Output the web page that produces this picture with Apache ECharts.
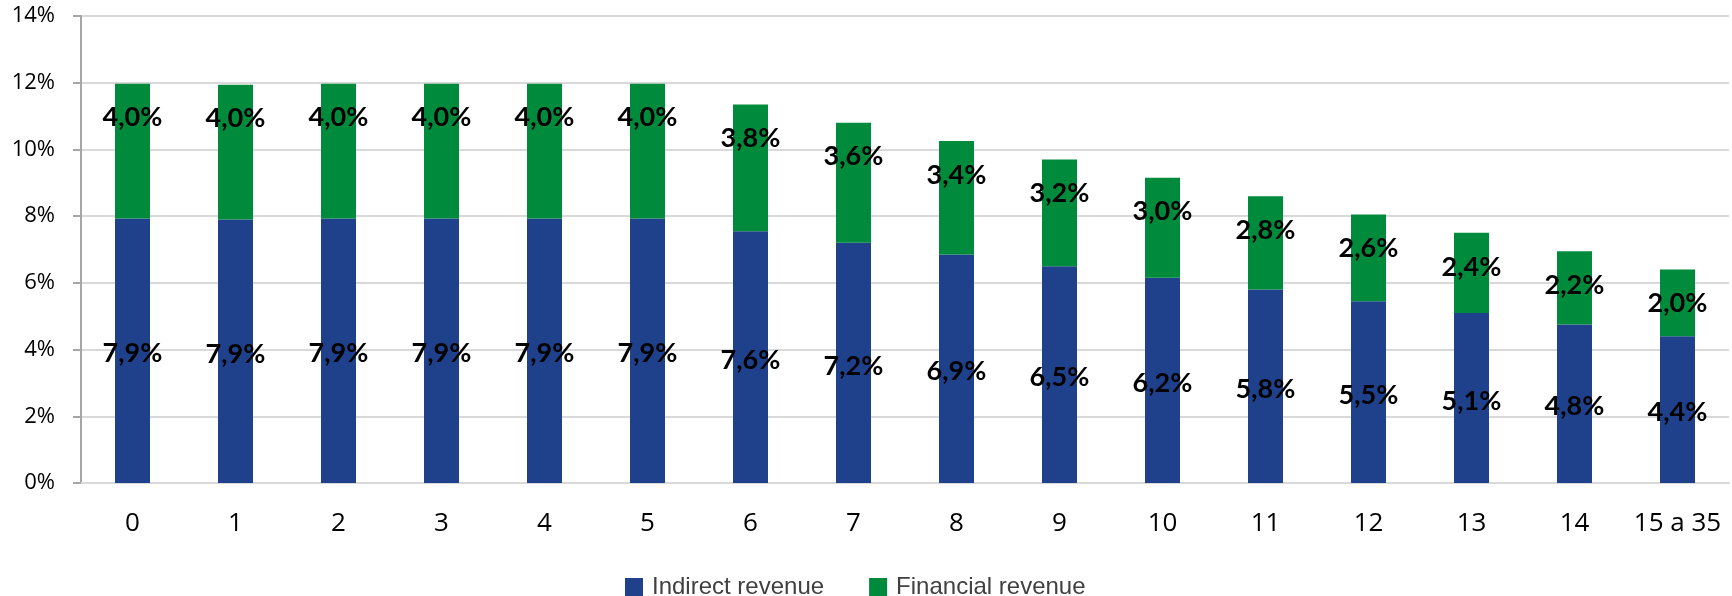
<!DOCTYPE html>
<html>
<head>
<meta charset="utf-8">
<title>Revenue</title>
<script src="https://cdn.jsdelivr.net/npm/echarts@6/dist/echarts.min.js"></script>
<style>
    html, body { margin: 0; padding: 0; background: #fff; }
    #myChart { width: 1732px; height: 596px; }
</style>
</head>
<body>
<div id="myChart"></div>
<script>
//横轴
var years = ['0', '1', '2', '3', '4', '5', '6', '7', '8', '9', '10', '11', '12', '13', '14', '15 a 35'];
//间接收入
var indirectRevenue = [7.93, 7.9, 7.93, 7.93, 7.93, 7.93, 7.55, 7.2, 6.85, 6.5, 6.15, 5.8, 5.45, 5.1, 4.75, 4.4];
//财务收入
var financialRevenue = [4.04, 4.04, 4.04, 4.04, 4.04, 4.04, 3.8, 3.6, 3.4, 3.2, 3.0, 2.8, 2.6, 2.4, 2.2, 2.0];
//纵轴
var yTicks = [0, 2, 4, 6, 8, 10, 12, 14];

function pctLabel(p) {
    return (p.value + 1e-9).toFixed(1).replace('.', ',') + '%';
}

window.onload = function () {
    var myChart = echarts.init(document.getElementById('myChart'));
    var option = {
        animation: false,
        textStyle: { fontFamily: 'Open Sans' },
        legend: {
            data: ['Indirect revenue', 'Financial revenue'],
            left: 620,
            top: 570,
            icon: 'rect',
            itemWidth: 18,
            itemHeight: 18,
            itemGap: 45,
            textStyle: {
                fontFamily: 'Liberation Sans',
                fontSize: 24,
                color: '#404040',
                padding: [0, 0, 0, 4]
            }
        },
        grid: {
            top: 16,
            left: 81,
            right: 3,
            bottom: 113
        },
        xAxis: {
            type: 'category',
            data: years,
            axisTick: { show: false },
            axisLine: { lineStyle: { color: '#D9D9D9', width: 2 } },
            axisLabel: {
                interval: 0,
                margin: 28,
                fontSize: 26,
                color: '#000'
            }
        },
        yAxis: {
            type: 'value',
            min: yTicks[0],
            max: yTicks[yTicks.length - 1],
            interval: 2,
            axisLine: { show: true, lineStyle: { color: '#A6A6A6', width: 2 } },
            axisTick: { show: true, inside: false, length: 8, lineStyle: { color: '#A6A6A6', width: 2 } },
            splitLine: { show: true, lineStyle: { color: '#D9D9D9', width: 2 } },
            axisLabel: {
                margin: 26,
                fontSize: 22,
                color: '#000',
                formatter: '{value}%'
            }
        },
        series: [{
            name: 'Indirect revenue',
            type: 'bar',
            stack: 'total',
            barWidth: 35,
            data: indirectRevenue,
            itemStyle: { color: '#1F418B' },
            label: {
                show: true,
                position: 'inside',
                offset: [0, 3],
                fontFamily: 'Lato',
                fontSize: 27,
                fontWeight: 'bold',
                color: '#000',
                formatter: pctLabel
            }
        }, {
            name: 'Financial revenue',
            type: 'bar',
            stack: 'total',
            barWidth: 35,
            data: financialRevenue,
            itemStyle: { color: '#008A3C' },
            label: {
                show: true,
                position: 'insideTop',
                distance: 21,
                lineHeight: 26,
                fontFamily: 'Lato',
                fontSize: 27,
                fontWeight: 'bold',
                color: '#000',
                formatter: pctLabel
            }
        }]
    };
    myChart.setOption(option);
    window.onresize = myChart.resize;
};
</script>
</body>
</html>
